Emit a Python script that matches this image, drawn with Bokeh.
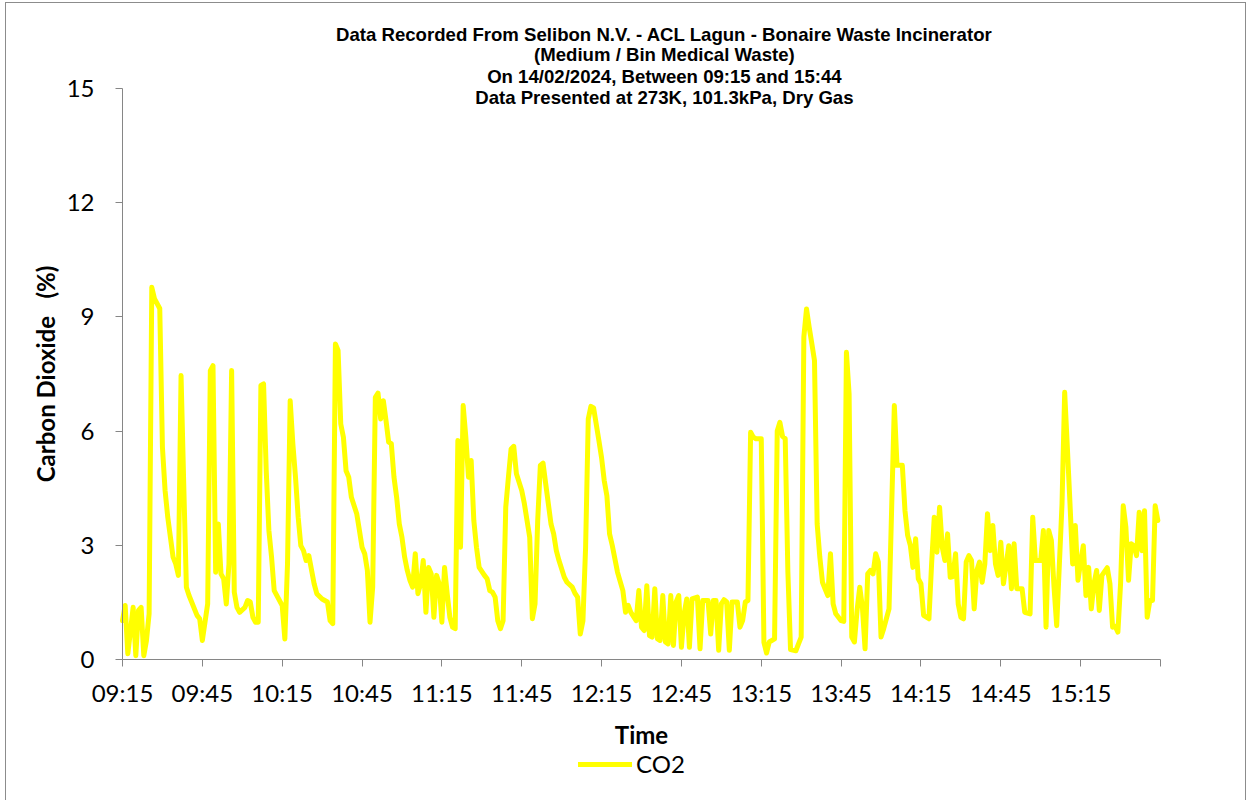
from bokeh.plotting import figure
from bokeh.models import Label, FixedTicker, Legend, LegendItem, ColumnDataSource, Range1d
from bokeh.embed import file_html
from bokeh.resources import INLINE

# CO2 readings, minutes after 09:15 on 14/02/2024
sample_minute = [
    0, 1, 2, 4, 5, 6, 7, 8, 9, 10, 11, 12, 14, 15, 16, 17, 19, 20, 21, 22,
    23, 24, 25, 28, 29, 30, 32, 33, 34, 35, 36, 37, 38, 39, 40, 41, 42, 43, 44, 46,
    47, 48, 49, 50, 51, 52, 53, 54, 55, 56, 57, 60, 61, 62, 63, 64, 65, 66, 67, 68,
    69, 70, 72, 73, 75, 77, 78, 79, 80, 81, 82, 83, 84, 85, 86, 88, 89, 90, 91, 92,
    93, 94, 95, 96, 97, 98, 99, 100, 101, 102, 103, 104, 105, 106, 107, 108, 109, 110, 111, 112,
    113, 114, 115, 116, 117, 118, 119, 120, 121, 122, 123, 124, 125, 126, 127, 128, 129, 130, 131, 132,
    133, 134, 136, 137, 138, 139, 140, 141, 142, 143, 144, 145, 146, 147, 148, 150, 151, 152, 153, 154,
    155, 156, 157, 158, 159, 161, 162, 163, 164, 166, 167, 169, 170, 171, 172, 173, 174, 175, 176, 177,
    179, 180, 181, 182, 183, 184, 186, 188, 189, 190, 191, 193, 194, 195, 196, 197, 198, 199, 200, 201,
    202, 203, 204, 205, 206, 207, 208, 209, 210, 211, 212, 213, 214, 216, 217, 218, 220, 221, 222, 223,
    224, 225, 226, 227, 228, 229, 231, 232, 233, 234, 235, 236, 237, 238, 240, 241, 242, 243, 245, 246,
    247, 248, 249, 250, 251, 253, 254, 255, 256, 257, 258, 259, 260, 261, 262, 263, 264, 265, 266, 267,
    268, 270, 271, 272, 273, 274, 275, 276, 277, 278, 279, 280, 281, 282, 283, 284, 285, 286, 288, 289,
    290, 291, 293, 294, 295, 296, 297, 298, 299, 300, 301, 303, 304, 305, 306, 307, 308, 309, 310, 311,
    312, 313, 314, 315, 316, 317, 318, 319, 320, 321, 322, 323, 324, 325, 326, 327, 328, 329, 330, 331,
    333, 334, 335, 336, 338, 339, 341, 342, 343, 345, 346, 347, 348, 349, 350, 351, 353, 354, 355, 356,
    357, 358, 359, 360, 361, 362, 363, 364, 365, 366, 367, 368, 370, 371, 372, 373, 374, 375, 376, 377,
    378, 379, 380, 381, 382, 383, 384, 385, 386, 387, 388, 389,
]

co2_pct = [
    1.02, 1.42, 0.15, 1.37, 0.10, 1.29, 1.37, 0.10, 0.50, 1.20, 9.78, 9.48, 9.22, 5.58, 4.44, 3.74, 2.69, 2.51, 2.21, 7.46,
    4.62, 1.90, 1.68, 1.16, 1.07, 0.50, 1.46, 7.59, 7.72, 2.29, 3.56, 2.25, 2.12, 1.46, 2.51, 7.59, 1.77, 1.37, 1.24, 1.37,
    1.55, 1.51, 1.11, 0.98, 0.98, 7.20, 7.24, 4.96, 3.39, 2.69, 1.81, 1.42, 0.54, 2.51, 6.80, 5.67, 4.79, 3.74, 2.99, 2.86,
    2.60, 2.73, 1.99, 1.73, 1.59, 1.51, 1.02, 0.94, 8.29, 8.12, 6.19, 5.84, 4.96, 4.79, 4.26, 3.83, 3.40, 2.95, 2.78, 2.34,
    0.98, 1.90, 6.89, 7.00, 6.32, 6.80, 6.28, 5.71, 5.67, 4.79, 4.26, 3.56, 3.21, 2.69, 2.34, 2.08, 1.90, 2.78, 1.73, 1.99,
    2.60, 1.24, 2.42, 2.25, 1.11, 2.21, 1.99, 0.98, 2.42, 1.73, 1.11, 0.85, 0.81, 5.75, 2.95, 6.67, 5.84, 4.79, 5.23, 3.65,
    2.95, 2.42, 2.21, 2.12, 1.81, 1.77, 1.64, 1.02, 0.81, 1.02, 4.00, 4.79, 5.53, 5.60, 4.88, 4.44, 4.09, 3.65, 3.21, 1.07,
    1.46, 3.65, 5.10, 5.16, 4.62, 3.56, 3.30, 2.86, 2.60, 2.16, 2.03, 1.90, 1.74, 1.64, 0.67, 1.02, 2.95, 6.32, 6.65, 6.61,
    5.75, 5.30, 4.70, 4.30, 3.30, 3.00, 2.29, 1.81, 1.24, 1.42, 1.24, 1.02, 1.81, 0.85, 0.76, 1.94, 0.63, 0.59, 1.86, 0.54,
    0.50, 1.68, 0.46, 0.41, 1.68, 0.37, 1.51, 1.68, 0.32, 1.20, 1.59, 0.32, 1.59, 1.64, 0.28, 1.55, 1.55, 0.67, 1.55, 1.55,
    0.24, 1.46, 1.57, 1.51, 0.24, 1.51, 1.51, 0.85, 1.02, 1.51, 1.55, 5.97, 5.84, 5.80, 5.80, 0.45, 0.17, 0.46, 0.54, 6.00,
    6.23, 5.86, 5.80, 2.30, 0.26, 0.23, 0.41, 0.59, 8.47, 9.21, 8.73, 8.30, 7.85, 3.56, 2.69, 2.03, 1.85, 1.68, 2.78, 1.46,
    1.20, 1.02, 1.00, 8.07, 6.98, 0.59, 0.46, 1.29, 1.90, 1.37, 0.28, 2.25, 2.34, 2.25, 2.78, 2.56, 0.59, 0.81, 1.33, 4.00,
    6.67, 5.10, 5.10, 3.91, 3.26, 3.00, 2.42, 3.17, 2.12, 1.99, 1.16, 1.07, 2.51, 3.74, 2.82, 4.00, 2.95, 2.60, 3.30, 2.16,
    2.18, 2.78, 1.46, 1.11, 1.07, 2.56, 2.73, 2.60, 1.33, 2.34, 2.56, 2.03, 2.51, 3.83, 2.86, 3.52, 2.51, 2.21, 3.08, 1.99,
    2.99, 1.86, 3.04, 1.86, 1.86, 1.24, 1.20, 3.74, 2.60, 2.60, 3.39, 0.85, 3.39, 3.13, 1.90, 0.89, 4.09, 7.02, 5.58, 4.09,
    2.51, 3.52, 2.08, 2.56, 2.99, 1.68, 2.42, 1.33, 1.99, 2.34, 1.29, 2.21, 2.41, 1.99, 0.85, 0.87, 0.72, 1.99, 4.04, 3.47,
    2.08, 3.04, 2.99, 2.73, 3.87, 2.86, 3.91, 1.11, 1.55, 1.55, 4.04, 3.65,
]

tick_minutes = [0, 30, 60, 90, 120, 150, 180, 210, 240, 270, 300, 330, 360, 390]
tick_labels = ["09:15", "09:45", "10:15", "10:45", "11:15", "11:45", "12:15",
               "12:45", "13:15", "13:45", "14:15", "14:45", "15:15", ""]
y_ticks = [0, 3, 6, 9, 12, 15]

title_lines = [
    "Data Recorded From Selibon N.V. - ACL Lagun - Bonaire Waste Incinerator",
    "(Medium / Bin Medical Waste)",
    "On 14/02/2024, Between 09:15 and 15:44",
    "Data Presented at 273K, 101.3kPa, Dry Gas",
]

FONT = "Lato"
AXIS_GREY = "#868686"

# The frame fills the whole canvas; both axes sit at fixed data positions
# and are bounded to 09:15-15:45 and 0-15 %, which leaves room around
# them for the heading, axis labels and legend.
p = figure(
    width=1239, height=797,
    x_range=Range1d(-43.585, 421.94), y_range=Range1d(-3.704, 17.233),
    output_backend="svg", toolbar_location=None,
    min_border_left=0, min_border_right=0,
    min_border_top=0, min_border_bottom=0,
)
p.margin = (3, 0, 0, 6)
p.styles = {"outline": "1px solid #8c8c8c"}
p.outline_line_color = None
p.background_fill_color = "white"
p.border_fill_color = "white"
p.grid.visible = False

src = ColumnDataSource(dict(t=sample_minute, co2=co2_pct))
r = p.line("t", "co2", source=src, line_color="#FFFF00", line_width=5,
           line_join="round", line_cap="round")

# axes
xa = p.xaxis[0]
xa.fixed_location = 0
xa.bounds = (0, 390)
xa.ticker = FixedTicker(ticks=tick_minutes)
xa.major_label_overrides = {m: lab for m, lab in zip(tick_minutes, tick_labels)}
xa.axis_label = "Time"
ya = p.yaxis[0]
ya.fixed_location = 0
ya.bounds = (0, 15)
ya.ticker = FixedTicker(ticks=y_ticks)
ya.axis_label = "Carbon Dioxide\u00a0\u00a0\u00a0(%)"

for ax in (xa, ya):
    ax.axis_line_color = AXIS_GREY
    ax.major_tick_line_color = AXIS_GREY
    ax.minor_tick_line_color = None
    ax.major_tick_in = 0
    ax.major_tick_out = 7
    ax.major_label_text_font = FONT
    ax.major_label_text_font_size = "24px"
    ax.major_label_text_color = "black"
    ax.axis_label_text_font = FONT
    ax.axis_label_text_font_size = "24px"
    ax.axis_label_text_font_style = "bold"
    ax.axis_label_text_color = "black"

xa.major_label_standoff = 11
xa.axis_label_standoff = 10
ya.major_label_standoff = 21
ya.axis_label_standoff = 4

legend = Legend(items=[LegendItem(label="CO2", renderers=[r])],
                orientation="horizontal", location=(572, 22),
                border_line_color=None, background_fill_alpha=0,
                label_text_font=FONT, label_text_font_size="24px",
                label_text_color="black",
                glyph_width=54, glyph_height=24, padding=0, margin=0,
                label_standoff=4)
p.add_layout(legend)

# four-line heading
title_x = 203.6
title_y = [16.418, 15.893, 15.328, 14.771]
for txt, yy in zip(title_lines, title_y):
    p.add_layout(Label(x=title_x, y=yy, text=txt, text_align="center",
                       text_baseline="middle", text_font="Liberation Sans",
                       text_font_style="bold", text_font_size="18.6px",
                       text_color="black"))

open("out.html", "w").write(file_html(p, INLINE))
